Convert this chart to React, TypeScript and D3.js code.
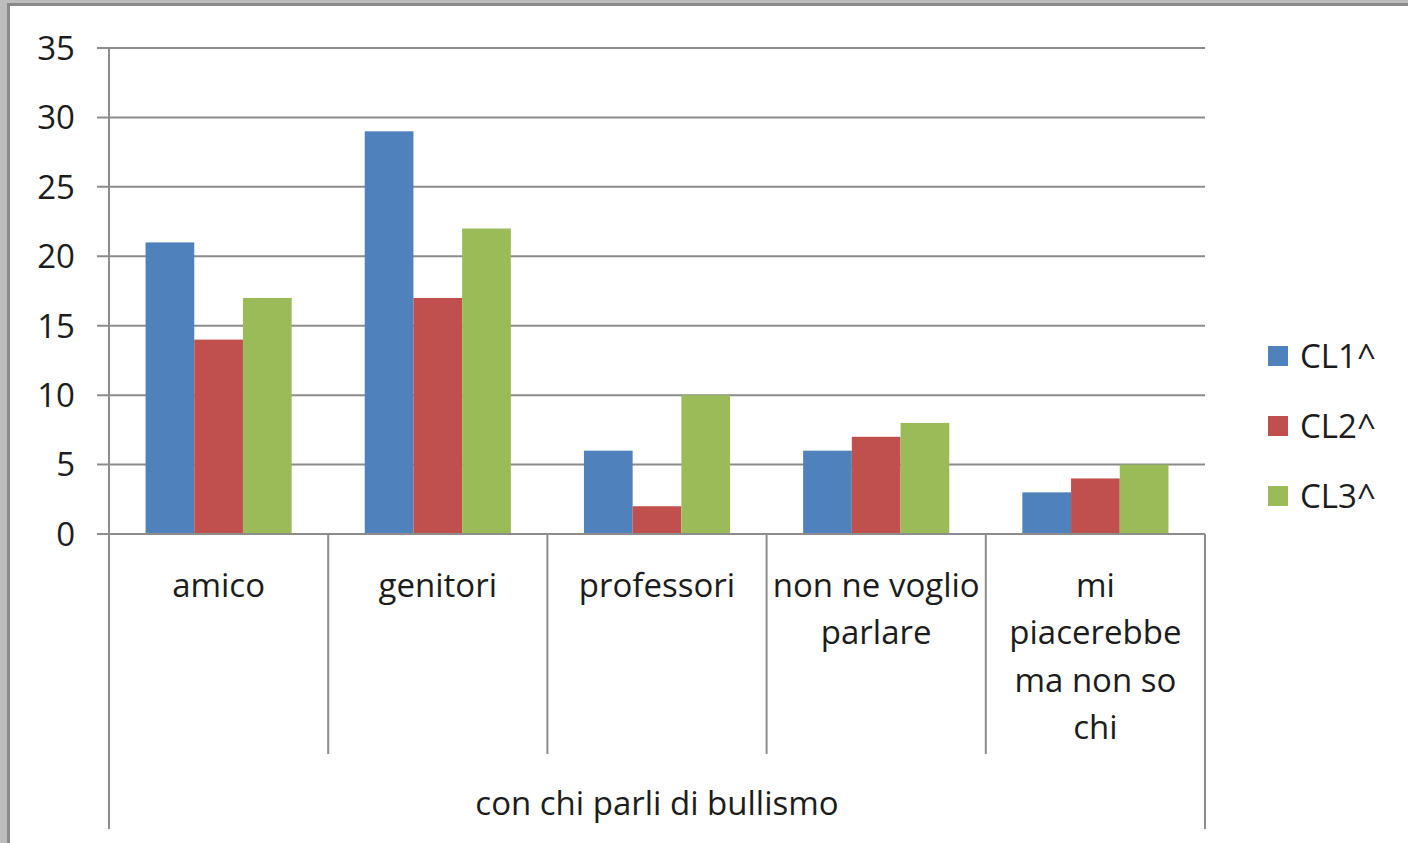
import React from "react";
import * as d3 from "d3";

const categories = ["amico", "genitori", "professori", "non ne voglio parlare", "mi piacerebbe ma non so chi"];
const categoryLines = [["amico"], ["genitori"], ["professori"], ["non ne voglio", "parlare"], ["mi", "piacerebbe", "ma non so", "chi"]];
const seriesNames = ["CL1^", "CL2^", "CL3^"];
const cl1 = [21, 29, 6, 6, 3];
const cl2 = [14, 17, 2, 7, 4];
const cl3 = [17, 22, 10, 8, 5];
const yTicks = [0, 5, 10, 15, 20, 25, 30, 35];
const axisTitle = "con chi parli di bullismo";
const colors = ["#4F81BD", "#C0504D", "#9BBB59"];

export default function App() {
  const W = 1408, H = 843;
  const left = 109, right = 1205, top = 48, bottom = 534;
  const series = [cl1, cl2, cl3];
  const x = d3.scaleBand<string>().domain(categories).range([left, right]).paddingInner(0).paddingOuter(0);
  const inner = d3.scaleBand<string>().domain(seriesNames).range([0, x.bandwidth()]).paddingInner(0).paddingOuter(0.75);
  const y = d3.scaleLinear().domain([0, 35]).range([bottom, top]);
  const font = "'Open Sans', sans-serif";
  const fs = 33;
  const textColor = "#1c1c1c";
  const grid = "#8c8c8c";
  const lineH = 47.3;
  return (
    <svg width={W} height={H} style={{ position: "absolute", left: 0, top: 0, background: "#fff" }} fontFamily={font}>
      <rect x={0} y={0} width={W} height={H} fill="#fff" />
      {/* frame */}
      <rect x={0} y={0} width={8} height={H} fill="#bdbdbd" />
      <rect x={7} y={0} width={3} height={H} fill="#8a8a8a" />
      <rect x={0} y={0} width={W} height={3} fill="#bdbdbd" />
      <rect x={7} y={3} width={W - 7} height={3} fill="#8a8a8a" />
      {/* gridlines + ticks */}
      {yTicks.map((t) => (
        <g key={t}>
          <line x1={97} x2={right} y1={y(t)} y2={y(t)} stroke={grid} strokeWidth={2} />
          <text x={75} y={y(t)} dy="0.36em" textAnchor="end" fontSize={fs} fill={textColor}>{t}</text>
        </g>
      ))}
      {/* bars */}
      {categories.map((c, i) =>
        series.map((s, j) => (
          <rect key={c + j} x={(x(c) as number) + (inner(seriesNames[j]) as number)} width={inner.bandwidth()}
            y={y(s[i])} height={y(0) - y(s[i])} fill={colors[j]} />
        ))
      )}
      {/* axes */}
      <line x1={left} x2={left} y1={top} y2={829} stroke={grid} strokeWidth={2} />
      <line x1={right} x2={right} y1={bottom} y2={829} stroke={grid} strokeWidth={2} />
      <line x1={left} x2={right} y1={bottom} y2={bottom} stroke={grid} strokeWidth={2} />
      {categories.slice(1).map((c) => (
        <line key={c} x1={x(c)} x2={x(c)} y1={bottom} y2={754} stroke={grid} strokeWidth={2} />
      ))}
      {categories.map((c, i) => (
        <text key={c} x={(x(c) as number) + x.bandwidth() / 2} textAnchor="middle" fontSize={fs} fill={textColor}>
          {categoryLines[i].map((l, k) => (
            <tspan key={k} x={(x(c) as number) + x.bandwidth() / 2} y={597 + k * lineH}>{l}</tspan>
          ))}
        </text>
      ))}
      <text x={(left + right) / 2} y={815} textAnchor="middle" fontSize={fs} fill={textColor}>{axisTitle}</text>
      {/* legend */}
      {seriesNames.map((n, j) => (
        <g key={n}>
          <rect x={1268} y={346 + j * 70} width={20} height={20} fill={colors[j]} />
          <text x={1300} y={356 + j * 70} dy="0.36em" fontSize={fs} fill={textColor}>{n}</text>
        </g>
      ))}
    </svg>
  );
}
